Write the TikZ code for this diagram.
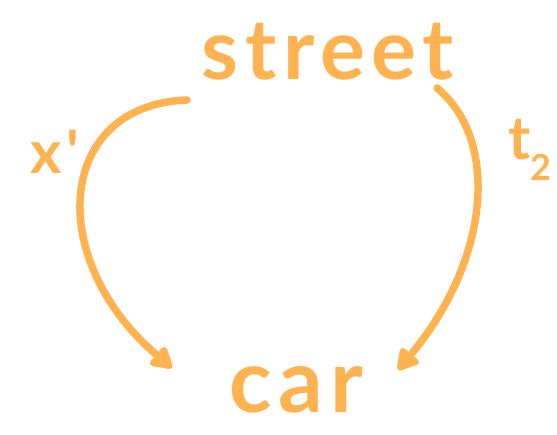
\documentclass[tikz,border=0pt]{standalone}
\usepackage{fontspec}
\setmainfont{Lato}
\usetikzlibrary{arrows.meta,calc}
\definecolor{hand}{RGB}{255,178,80}
\newfontfamily\handfont[LetterSpace=8]{Lato}
\tikzset{
  word/.style={text=hand, font=\handfont\bfseries\fontsize{84}{84}\selectfont, inner sep=0pt},
  bigword/.style={text=hand, font=\handfont\bfseries\fontsize{88}{88}\selectfont, inner sep=0pt},
  lbl/.style={text=hand, font=\handfont\bfseries\fontsize{60}{60}\selectfont, inner sep=0pt},
  arr/.style={draw=hand, line width=7.5pt, line cap=round,
    -{Triangle[length=24pt,width=26pt,round]}}
}
\begin{document}
\begin{tikzpicture}[x=1pt,y=-1pt]
\path[use as bounding box] (0,0) rectangle (557,435);
\node[word] (street) at (328,52) {street};
\node[bigword] (car) at (296,390) {car};
\node[lbl] (xp) at (55,152) {x'};
\node[lbl] (t2) at (530,150) {t\raisebox{-0.35em}{\fontsize{36}{36}\selectfont 2}};
\draw[arr] ($(street.center)+(-141,48)$) .. controls (55,105) and (45,260) .. ($(car.center)+(-124,-22)$);
\draw[arr] ($(street.center)+(109,36)$) .. controls (500,140) and (490,260) .. ($(car.center)+(102,-20)$);
\end{tikzpicture}
\end{document}
